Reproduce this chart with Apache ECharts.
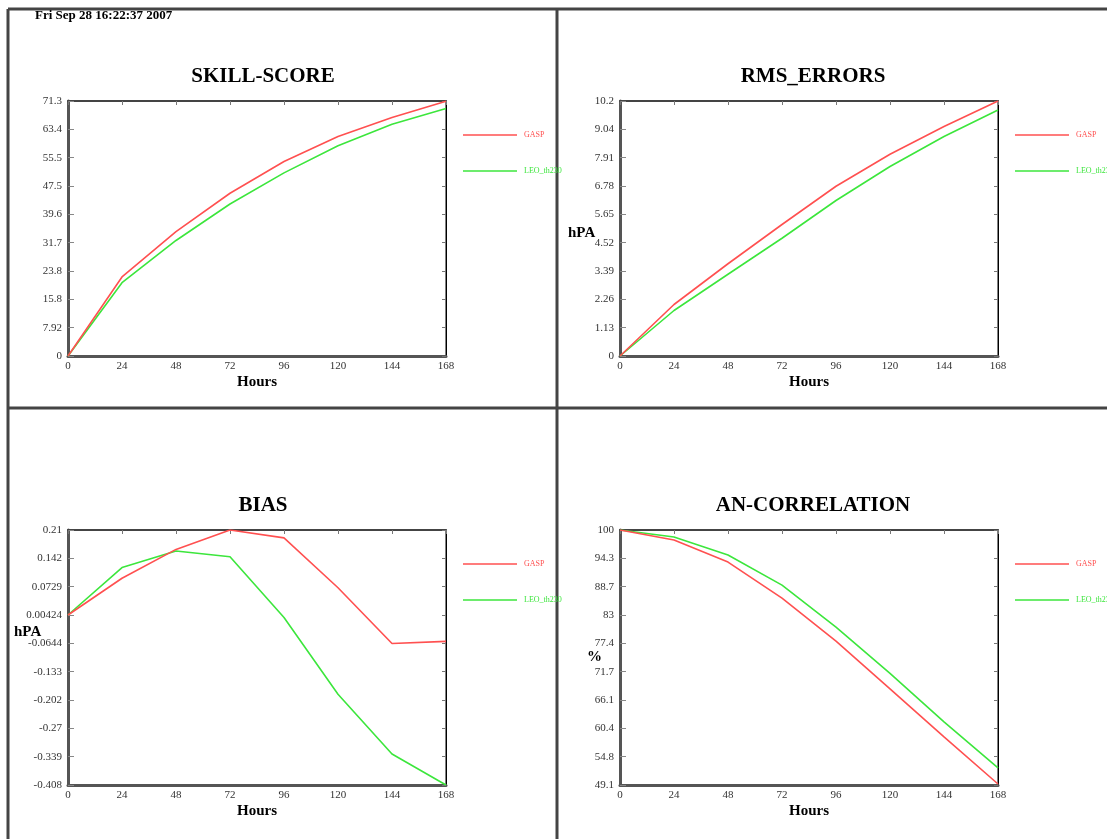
<!DOCTYPE html>
<html>
<head>
<meta charset="utf-8">
<script src="https://cdn.jsdelivr.net/npm/echarts@6/dist/echarts.min.js"></script>
<style>
  html, body { margin: 0; padding: 0; background: #fff; }
  #main { width: 1107px; height: 839px; }
</style>
</head>
<body>
<div id="main"></div>
<script>
// forecast hours
let hours = [0, 24, 48, 72, 96, 120, 144, 168]

// SKILL-SCORE
let skillGasp = [0, 22.1, 34.8, 45.5, 54.4, 61.4, 66.7, 71.2]
let skillLeo = [0, 20.5, 32.3, 42.5, 51.2, 58.8, 64.8, 69.2]
let skillTicks = ['0', '7.92', '15.8', '23.8', '31.7', '39.6', '47.5', '55.5', '63.4', '71.3']

// RMS_ERRORS
let rmsGasp = [0, 2.06, 3.69, 5.26, 6.79, 8.07, 9.18, 10.2]
let rmsLeo = [0, 1.82, 3.27, 4.71, 6.22, 7.58, 8.78, 9.84]
let rmsTicks = ['0', '1.13', '2.26', '3.39', '4.52', '5.65', '6.78', '7.91', '9.04', '10.2']

// BIAS
let biasGasp = [0.004, 0.093, 0.163, 0.21, 0.191, 0.070, -0.065, -0.060]
let biasLeo = [0.004, 0.119, 0.159, 0.145, -0.002, -0.188, -0.333, -0.408]
let biasTicks = ['-0.408', '-0.339', '-0.27', '-0.202', '-0.133', '-0.0644', '0.00424', '0.0729', '0.142', '0.21']

// AN-CORRELATION
let acGasp = [100, 98.0, 93.6, 86.4, 77.8, 68.3, 58.7, 49.3]
let acLeo = [100, 98.6, 95.0, 89.0, 80.6, 71.4, 61.7, 52.5]
let acTicks = ['49.1', '54.8', '60.4', '66.1', '71.7', '77.4', '83', '88.7', '94.3', '100']

let hourTicks = ['0', '24', '48', '72', '96', '120', '144', '168']

let RED = 'rgb(255,80,80)'
let GREEN = 'rgb(60,230,60)'
let FONT = 'Liberation Serif'

let panels = [
  { title: 'SKILL-SCORE', left: 68, top: 101, cx: 258, ty: 61, ticks: skillTicks, gasp: skillGasp, leo: skillLeo },
  { title: 'RMS_ERRORS', left: 620, top: 101, cx: 808, ty: 61, ticks: rmsTicks, gasp: rmsGasp, leo: rmsLeo },
  { title: 'BIAS', left: 68, top: 530, cx: 258, ty: 490, ticks: biasTicks, gasp: biasGasp, leo: biasLeo },
  { title: 'AN-CORRELATION', left: 620, top: 530, cx: 808, ty: 490, ticks: acTicks, gasp: acGasp, leo: acLeo }
]

// pick the printed label nearest to the tick value
function nearestLabel(labels) {
  return function (v) {
    let best = labels[0]
    let d = Infinity
    labels.forEach(l => {
      let dd = Math.abs(parseFloat(l) - v)
      if (dd < d) { d = dd; best = l }
    })
    return best
  }
}

let chart = echarts.init(document.getElementById('main'), null, { renderer: 'canvas' })

let grid = [], xAxis = [], yAxis = [], series = [], title = [], legend = []

panels.forEach((p, i) => {
  let mn = parseFloat(p.ticks[0])
  let mx = parseFloat(p.ticks[p.ticks.length - 1])
  let step = (mx - mn) / (p.ticks.length - 1)

  grid.push({ left: p.left, top: p.top, width: 378, height: 255, show: true, borderColor: '#000', borderWidth: 1 })

  title.push({
    text: p.title, left: p.cx, top: p.ty, textAlign: 'center',
    textStyle: { fontFamily: FONT, fontSize: 21, fontWeight: 'bold', color: '#000' }
  })

  // bottom hours axis
  xAxis.push({
    gridIndex: i, type: 'value', min: 0, max: 168, interval: 24,
    name: 'Hours', nameLocation: 'middle', nameGap: 19,
    nameTextStyle: { fontFamily: FONT, fontSize: 15, fontWeight: 'bold', color: '#000' },
    axisLine: { show: true, onZero: false, lineStyle: { color: '#555', width: 3 } },
    axisTick: { show: false },
    axisLabel: { fontFamily: FONT, fontSize: 11, color: '#333', margin: 5, formatter: nearestLabel(hourTicks) },
    splitLine: { show: false }
  })
  // top axis, ticks only
  xAxis.push({
    gridIndex: i, type: 'value', position: 'top', min: 0, max: 168, interval: 24,
    axisLine: { show: true, onZero: false, lineStyle: { color: '#444', width: 2 } },
    axisTick: { show: true, inside: true, length: 4, lineStyle: { color: '#777' } },
    axisLabel: { show: false }, splitLine: { show: false }
  })
  yAxis.push({
    gridIndex: i, type: 'value', min: mn, max: mx, interval: step,
    axisLine: { show: true, onZero: false, lineStyle: { color: '#555', width: 3 } },
    axisTick: { show: true, inside: true, length: 6, lineStyle: { color: '#888' } },
    axisLabel: { fontFamily: FONT, fontSize: 11, color: '#333', margin: 6, formatter: nearestLabel(p.ticks) },
    splitLine: { show: false }
  })
  yAxis.push({
    gridIndex: i, type: 'value', position: 'right', min: mn, max: mx, interval: step,
    axisLine: { show: true, onZero: false, lineStyle: { color: '#000', width: 1 } },
    axisTick: { show: true, inside: true, length: 4, lineStyle: { color: '#777' } },
    axisLabel: { show: false }, splitLine: { show: false }
  })

  series.push({
    name: 'GASP', type: 'line', xAxisIndex: i * 2, yAxisIndex: i * 2,
    data: hours.map((h, k) => [h, p.gasp[k]]),
    showSymbol: false, lineStyle: { color: RED, width: 1.6 }, itemStyle: { color: RED },
    z: 3
  })
  series.push({
    name: 'LEO_th230', type: 'line', xAxisIndex: i * 2, yAxisIndex: i * 2,
    data: hours.map((h, k) => [h, p.leo[k]]),
    showSymbol: false, lineStyle: { color: GREEN, width: 1.6 }, itemStyle: { color: GREEN },
    z: 2
  })

  legend.push({
    left: p.left + 390, top: p.top + 25, orient: 'vertical', itemGap: 28,
    itemWidth: 54, itemHeight: 6, icon: 'path://M0,2.3 L54,2.3 L54,3.7 L0,3.7 Z',
    selectedMode: false,
    data: [
      { name: 'GASP', textStyle: { color: RED } },
      { name: 'LEO_th230', textStyle: { color: GREEN } }
    ],
    textStyle: { fontFamily: FONT, fontSize: 8, padding: [0, 0, 0, 2] }
  })
})

let frame = { stroke: '#444', lineWidth: 3 }
let yName = { fontFamily: FONT, fontSize: 15, fontWeight: 'bold', fill: '#000' }

let option = {
  animation: false,
  backgroundColor: '#fff',
  title,
  grid,
  xAxis,
  yAxis,
  legend,
  series,
  graphic: [
    { type: 'line', shape: { x1: 8, y1: 9, x2: 1107, y2: 9 }, style: frame, silent: true },
    { type: 'line', shape: { x1: 8, y1: 9, x2: 8, y2: 839 }, style: frame, silent: true },
    { type: 'line', shape: { x1: 557, y1: 9, x2: 557, y2: 839 }, style: frame, silent: true },
    { type: 'line', shape: { x1: 8, y1: 408, x2: 1107, y2: 408 }, style: frame, silent: true },
    { type: 'text', left: 35, top: 9, style: { text: 'Fri Sep 28 16:22:37 2007', fontFamily: FONT, fontSize: 13, fontWeight: 'bold', fill: '#000' } },
    { type: 'text', left: 568, top: 226, style: Object.assign({ text: 'hPA' }, yName) },
    { type: 'text', left: 14, top: 625, style: Object.assign({ text: 'hPA' }, yName) },
    { type: 'text', left: 587, top: 650, style: Object.assign({ text: '%' }, yName) }
  ]
}

chart.setOption(option)
</script>
</body>
</html>
